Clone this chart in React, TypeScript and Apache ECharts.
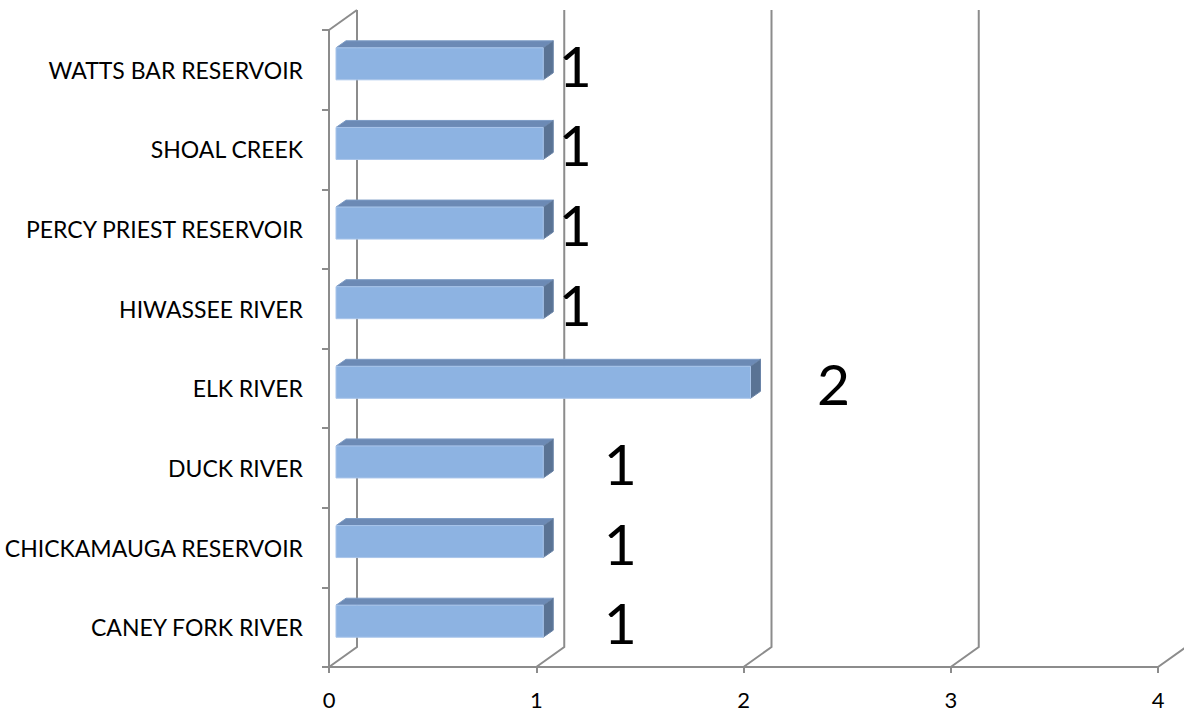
import React, { useEffect, useRef } from "react";
import * as echarts from "echarts";

const categories = [
  "CANEY FORK RIVER",
  "CHICKAMAUGA RESERVOIR",
  "DUCK RIVER",
  "ELK RIVER",
  "HIWASSEE RIVER",
  "PERCY PRIEST RESERVOIR",
  "SHOAL CREEK",
  "WATTS BAR RESERVOIR",
];
const counts = [1, 1, 1, 2, 1, 1, 1, 1];
const xTicks = [0, 1, 2, 3, 4];
// label horizontal offset from bar end (style, not data)
const labelDx = [77, 77, 77, 83, 32, 32, 32, 32];

const FONT = "Lato";
const GRID_COLOR = "#8c8c8c";
const DEPTH_X = 28;
const DEPTH_Y = -20;

export default function App() {
  const ref = useRef<HTMLDivElement>(null);
  useEffect(() => {
    document.body.style.margin = "0";
    const chart = echarts.init(ref.current!, null, { renderer: "svg" });
    const option: any = {
      animation: false,
      backgroundColor: "#ffffff",
      grid: { left: 329, right: 26, top: 30, bottom: 45, containLabel: false },
      xAxis: {
        type: "value",
        min: 0,
        max: 4,
        interval: 1,
        axisLine: { show: true, lineStyle: { color: GRID_COLOR, width: 2 } },
        axisTick: { show: true, length: 6, lineStyle: { color: GRID_COLOR, width: 2 } },
        axisLabel: { color: "#000", fontSize: 22, fontFamily: FONT, margin: 21 },
        splitLine: { show: false },
      },
      yAxis: {
        type: "category",
        data: categories,
        axisLine: { show: true, lineStyle: { color: GRID_COLOR, width: 2 } },
        axisTick: { show: true, length: 7, lineStyle: { color: GRID_COLOR, width: 2 } },
        axisLabel: { color: "#000", fontSize: 23, fontFamily: FONT, margin: 26 },
        splitLine: { show: false },
      },
      series: [
        {
          type: "custom",
          z: 1,
          clip: false,
          silent: true,
          data: xTicks.map((v) => [v, 0]),
          renderItem: (params: any, api: any) => {
            const v = api.value(0);
            const cs = params.coordSys;
            const x = api.coord([v, 0])[0];
            const yb = cs.y + cs.height;
            const yt = cs.y;
            const style = { stroke: GRID_COLOR, lineWidth: 2, fill: "none" };
            const children: any[] = [
              {
                type: "polyline",
                shape: {
                  points: [
                    [x, yb],
                    [x + DEPTH_X, yb + DEPTH_Y],
                    [x + DEPTH_X, yt + DEPTH_Y],
                  ],
                },
                style,
              },
            ];
            if (v === 0) {
              children.push({
                type: "line",
                shape: { x1: x, y1: yt, x2: x + DEPTH_X, y2: yt + DEPTH_Y },
                style,
              });
            }
            return { type: "group", children };
          },
        },
        {
          type: "custom",
          z: 5,
          clip: false,
          data: counts.map((c, i) => [c, i]),
          renderItem: (params: any, api: any) => {
            const v = api.value(0);
            const idx = api.value(1);
            const p0 = api.coord([0, idx]);
            const p1 = api.coord([v, idx]);
            const x0 = p0[0] + 7;
            const x1 = p1[0] + 7;
            const yc = p0[1] - 6;
            const h = 32;
            const dx = 10;
            const dy = -7;
            const top = yc - h / 2;
            const bot = yc + h / 2;
            return {
              type: "group",
              children: [
                {
                  type: "polygon",
                  shape: {
                    points: [
                      [x0, top],
                      [x1, top],
                      [x1 + dx, top + dy],
                      [x0 + dx, top + dy],
                    ],
                  },
                  style: { fill: "#6c8ab5", stroke: "#7d9cc6", lineWidth: 1 },
                },
                {
                  type: "polygon",
                  shape: {
                    points: [
                      [x1, top],
                      [x1 + dx, top + dy],
                      [x1 + dx, bot + dy],
                      [x1, bot],
                    ],
                  },
                  style: { fill: "#5a7394", stroke: "#6a84a8", lineWidth: 1 },
                },
                {
                  type: "rect",
                  shape: { x: x0, y: top, width: x1 - x0, height: h },
                  style: { fill: "#8db3e2", stroke: "#a9c5ea", lineWidth: 1 },
                },
                {
                  type: "text",
                  style: {
                    text: String(v),
                    x: x1 + labelDx[idx],
                    y: yc + 1,
                    align: "center",
                    verticalAlign: "middle",
                    fontSize: 57,
                    fontFamily: FONT,
                    fill: "#000",
                  },
                },
              ],
            };
          },
        },
      ],
    };
    chart.setOption(option);
    return () => chart.dispose();
  }, []);
  return <div ref={ref} style={{ width: 1184, height: 712 }} />;
}
